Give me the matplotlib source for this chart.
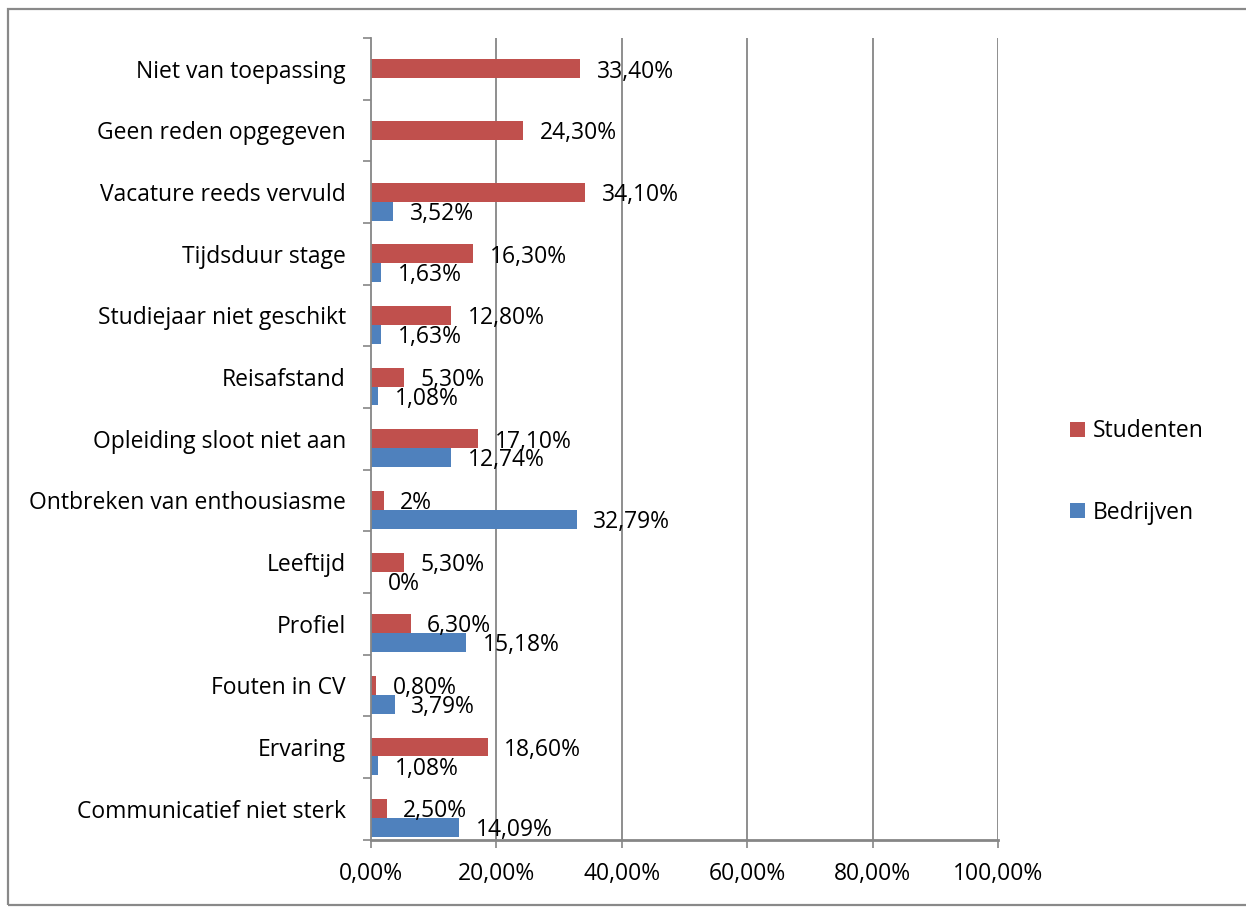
import matplotlib
matplotlib.use("Agg")
import matplotlib.pyplot as plt
from matplotlib.patches import Rectangle
import numpy as np

categories = [
    "Niet van toepassing", "Geen reden opgegeven", "Vacature reeds vervuld",
    "Tijdsduur stage", "Studiejaar niet geschikt", "Reisafstand",
    "Opleiding sloot niet aan", "Ontbreken van enthousiasme", "Leeftijd",
    "Profiel", "Fouten in CV", "Ervaring", "Communicatief niet sterk",
]
studenten = [33.40, 24.30, 34.10, 16.30, 12.80, 5.30, 17.10, 2.0, 5.30, 6.30, 0.80, 18.60, 2.50]
studenten_labels = ["33,40%", "24,30%", "34,10%", "16,30%", "12,80%", "5,30%", "17,10%",
                    "2%", "5,30%", "6,30%", "0,80%", "18,60%", "2,50%"]
bedrijven = [None, None, 3.52, 1.63, 1.63, 1.08, 12.74, 32.79, 0.0, 15.18, 3.79, 1.08, 14.09]
bedrijven_labels = [None, None, "3,52%", "1,63%", "1,63%", "1,08%", "12,74%", "32,79%",
                    "0%", "15,18%", "3,79%", "1,08%", "14,09%"]
xticks = [0, 20, 40, 60, 80, 100]
xtick_labels = ["0,00%", "20,00%", "40,00%", "60,00%", "80,00%", "100,00%"]

RED = "#C0504D"
BLUE = "#4F81BD"
GRID = "#868686"
FONT = "Open Sans"
FS = 16.5

W, H = 1246, 907
fig = plt.figure(figsize=(W / 100, H / 100), dpi=100)
fig.patches.append(Rectangle((8 / W, 1 - 905 / H), 1.2, (905 - 9) / H,
                             transform=fig.transFigure, fill=False,
                             edgecolor="#898989", linewidth=1.6))

left, right, top, bottom = 371, 998, 38, 839.5
ax = fig.add_axes([left / W, 1 - bottom / H, (right - left) / W, (bottom - top) / H])

n = len(categories)
y = np.arange(n)
bh = 0.307
ax.barh(y, studenten, height=bh, color=RED, label="Studenten", edgecolor="none")
b_idx = [i for i, v in enumerate(bedrijven) if v is not None]
ax.barh([i + bh for i in b_idx], [bedrijven[i] for i in b_idx], height=bh,
        color=BLUE, label="Bedrijven", edgecolor="none")

for i, (v, lab) in enumerate(zip(studenten, studenten_labels)):
    ax.annotate(lab, (v, i), xytext=(12, -2), textcoords="offset points",
                ha="left", va="center", fontsize=FS, family=FONT)
for i in b_idx:
    ax.annotate(bedrijven_labels[i], (bedrijven[i], i + bh), xytext=(12, -2),
                textcoords="offset points", ha="left", va="center",
                fontsize=FS, family=FONT)

ax.set_xlim(0, 100)
ax.set_ylim(n - 0.5, -0.5)
ax.set_xticks(xticks)
ax.set_xticklabels(xtick_labels, family=FONT, fontsize=FS)
ax.set_yticks(y)
ax.set_yticklabels(categories, family=FONT, fontsize=FS)
ax.set_yticks(np.arange(-0.5, n, 1), minor=True)
ax.tick_params(axis="y", which="major", length=0, pad=18)
ax.tick_params(axis="y", which="minor", length=6, color=GRID, width=1.2)
ax.tick_params(axis="x", which="major", length=6, color=GRID, width=1.2, pad=10)

for xv in xticks[1:]:
    ax.axvline(xv, color=GRID, linewidth=1.3, zorder=0)
for s in ["top", "right"]:
    ax.spines[s].set_visible(False)
ax.spines["left"].set_color(GRID)
ax.spines["left"].set_linewidth(1.3)
ax.spines["bottom"].set_color(GRID)
ax.spines["bottom"].set_linewidth(2)
ax.set_axisbelow(True)

ax.legend(loc="center left", bbox_to_anchor=(1070 / W, 1 - 472 / H),
          bbox_transform=fig.transFigure, frameon=False,
          prop={"family": FONT, "size": FS}, handlelength=0.65,
          handleheight=0.65, handletextpad=0.35, labelspacing=2.5,
          borderpad=0, borderaxespad=0)

fig.savefig("out.png", dpi=100)
